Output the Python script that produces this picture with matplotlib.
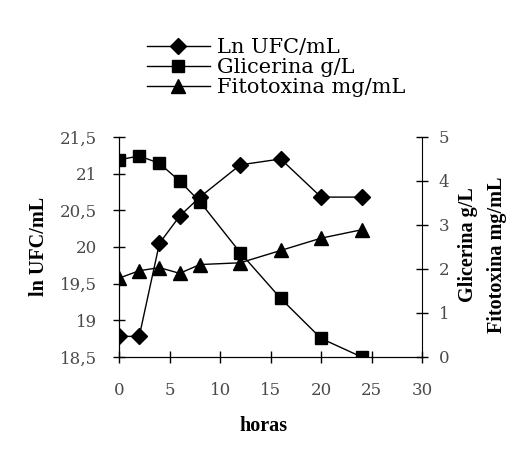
import matplotlib
matplotlib.use("Agg")
import matplotlib.pyplot as plt
from matplotlib.ticker import FuncFormatter

horas = [0, 2, 4, 6, 8, 12, 16, 20, 24]
ln_ufc = [18.78, 18.78, 20.05, 20.42, 20.68, 21.12, 21.2, 20.68, 20.68]
glicerina = [4.48, 4.57, 4.40, 4.00, 3.53, 2.37, 1.33, 0.42, 0.0]
fitotoxina = [1.79, 1.96, 2.03, 1.90, 2.10, 2.14, 2.42, 2.70, 2.89]

left_ticks = [18.5, 19, 19.5, 20, 20.5, 21, 21.5]
right_ticks = [0, 1, 2, 3, 4, 5]
x_ticks = [0, 5, 10, 15, 20, 25, 30]

plt.rcParams['font.family'] = ['DejaVu Serif', 'Liberation Serif']

fig = plt.figure(figsize=(5.29, 4.74), dpi=100)
ax = fig.add_axes([0.225, 0.247, 0.573, 0.464])
ax2 = ax.twinx()

def comma(v, pos):
    s = ('%g' % v)
    return s.replace('.', ',')

l1, = ax.plot(horas, ln_ufc, color='black', lw=1, marker='D', ms=8, label='Ln UFC/mL')
l2, = ax2.plot(horas, glicerina, color='black', lw=1, marker='s', ms=9, label='Glicerina g/L')
l3, = ax2.plot(horas, fitotoxina, color='black', lw=1, marker='^', ms=9.5, label='Fitotoxina mg/mL')

ax.set_xlim(0, 30)
ax.set_ylim(18.5, 21.5)
ax2.set_ylim(0, 5)
ax.set_xticks(x_ticks)
ax.set_yticks(left_ticks)
ax2.set_yticks(right_ticks)
ax.yaxis.set_major_formatter(FuncFormatter(comma))

for a in (ax, ax2):
    a.spines['top'].set_visible(False)
    a.tick_params(direction='inout', length=8, width=1, labelsize=12, labelcolor='#4a4a4a')
ax.tick_params(axis='y', pad=12)
ax.tick_params(axis='x', pad=14)
ax2.tick_params(axis='y', pad=8)
ax.spines['right'].set_visible(False)

lab = dict(fontsize=14.5, fontweight='bold', family=['Liberation Serif', 'DejaVu Serif'],
           ha='center', va='center')
fig.text(0.498, 0.101, 'horas', **lab)
fig.text(0.074, 0.481, 'ln UFC/mL', rotation=90, **lab)
fig.text(0.885, 0.483, 'Glicerina g/L', rotation=90, **lab)
fig.text(0.940, 0.462, 'Fitotoxina mg/mL', rotation=90, **lab)

fig.legend(handles=[l1, l2, l3], loc='center', bbox_to_anchor=(0.522, 0.857),
           frameon=False, fontsize=15, handlelength=3.0, labelspacing=0.05,
           handletextpad=0.35, borderpad=0)

fig.savefig('out.png', dpi=100)
